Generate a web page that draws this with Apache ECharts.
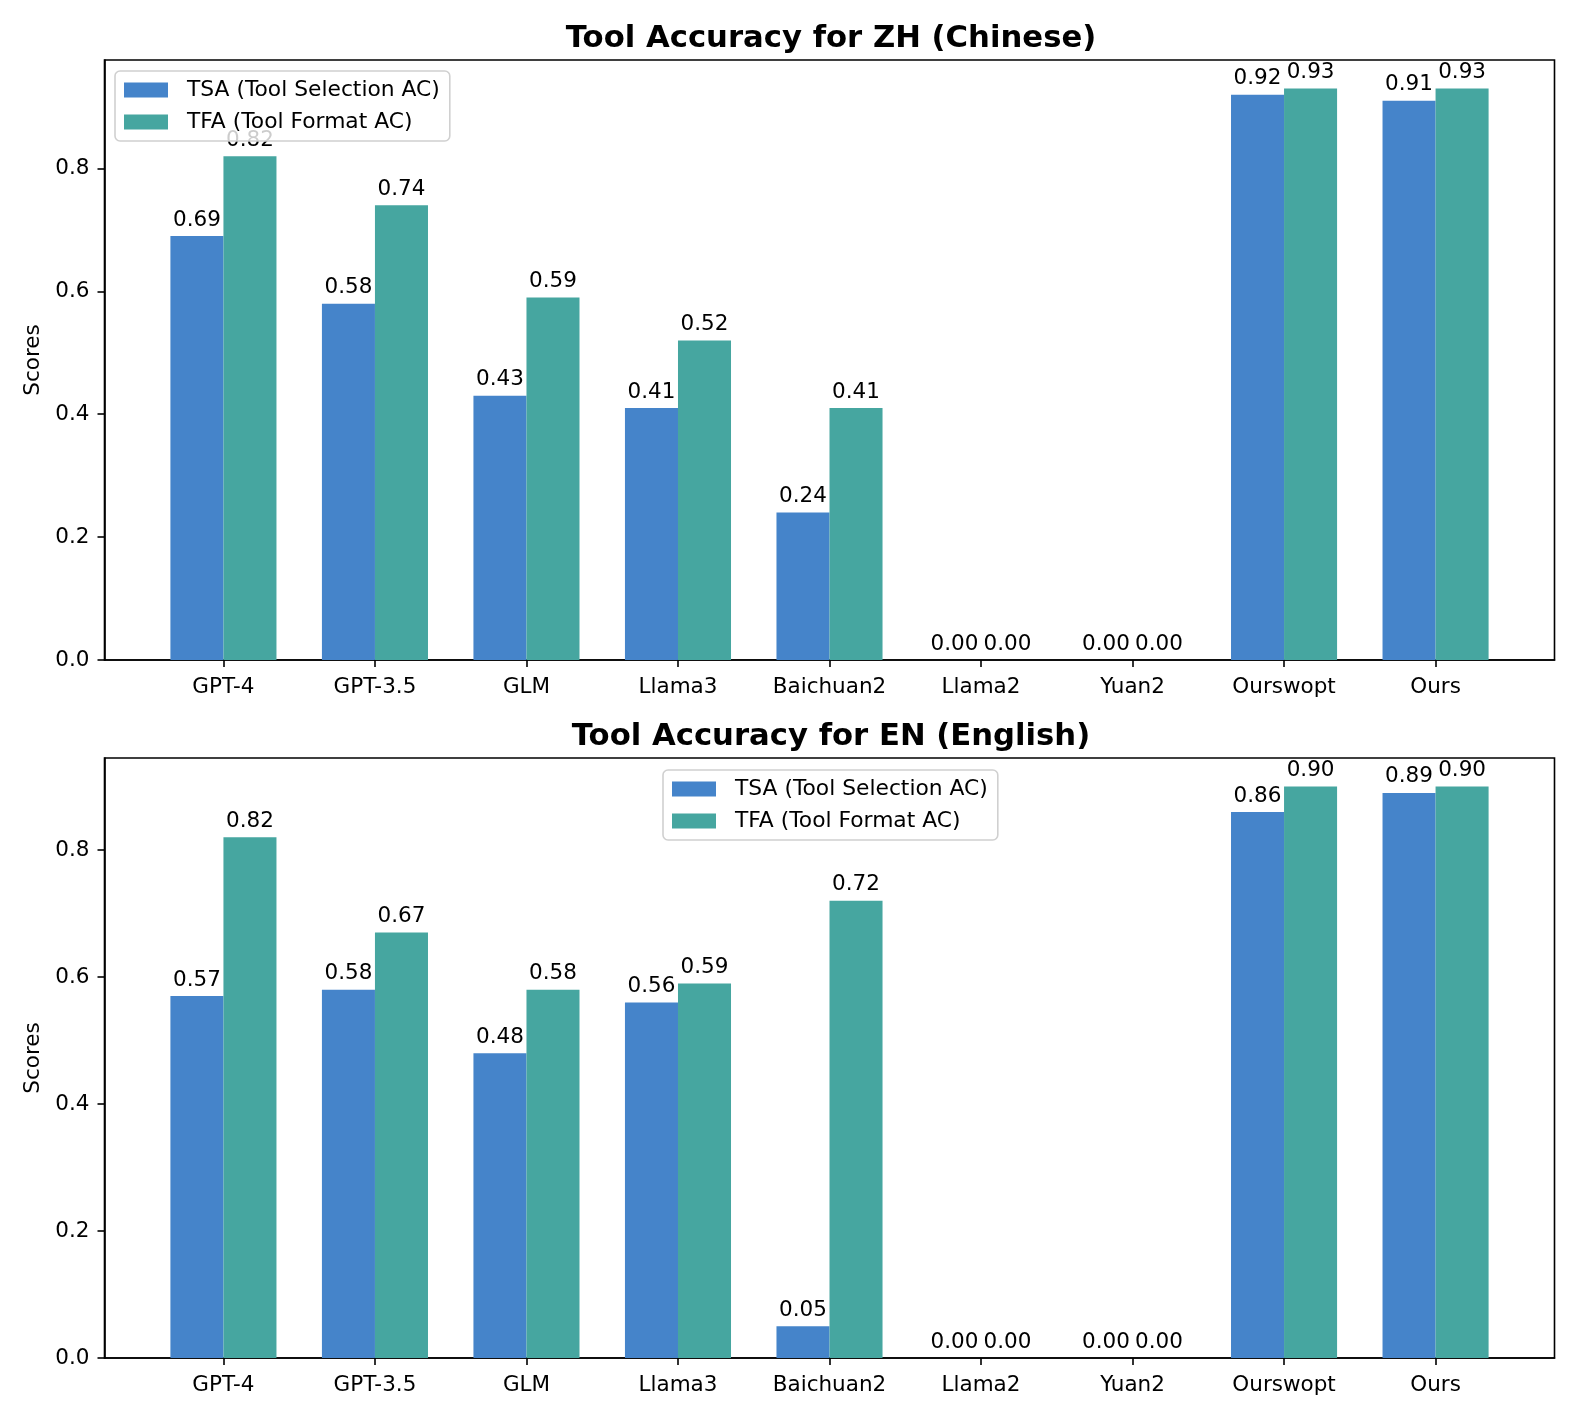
<!DOCTYPE html>
<html><head><meta charset="utf-8">
<script src="https://cdn.jsdelivr.net/npm/echarts/dist/echarts.min.js"></script>
<style>html,body{margin:0;padding:0;background:#fff}#c{width:1578px;height:1420px}</style>
</head><body><div id="c"></div>
<script>
const categories = ['GPT-4','GPT-3.5','GLM','Llama3','Baichuan2','Llama2','Yuan2','Ourswopt','Ours'];
const tsaZH = [0.69,0.58,0.43,0.41,0.24,0.00,0.00,0.92,0.91];
const tfaZH = [0.82,0.74,0.59,0.52,0.41,0.00,0.00,0.93,0.93];
const tsaEN = [0.57,0.58,0.48,0.56,0.05,0.00,0.00,0.86,0.89];
const tfaEN = [0.82,0.67,0.58,0.59,0.72,0.00,0.00,0.90,0.90];
const yTicks = [0,0.2,0.4,0.6,0.8];
const titles = ['Tool Accuracy for ZH (Chinese)','Tool Accuracy for EN (English)'];
const seriesNames = ['TSA (Tool Selection AC)','TFA (Tool Format AC)'];
const yLabel = 'Scores';

const FONT = 'DejaVu Sans';
const FS = 21.5;
const BLUE = '#4584ca', TEAL = '#46a6a0';
const chart = echarts.init(document.getElementById('c'), null, {renderer:'canvas'});

const panels = [
  {tsa: tsaZH, tfa: tfaZH, top: 60},
  {tsa: tsaEN, tfa: tfaEN, top: 758}
];
const grids = [], xAxes = [], yAxes = [], series = [], titleArr = [], legends = [];
const xIdx = categories.map((c,i)=>i);
panels.forEach((p, k) => {
  grids.push({left:104.5, top:p.top, width:1450, height:600, show:true, borderColor:'#000', borderWidth:1.6, backgroundColor:'transparent'});
  const ymax = Math.max(...p.tsa, ...p.tfa) * 1.05;
  xAxes.push({type:'value', gridIndex:k, min:-0.785, max:categories.length-1+0.785,
    axisLine:{show:true, onZero:false, lineStyle:{color:'#000', width:1.6}},
    axisTick:{show:true, length:7, lineStyle:{color:'#000', width:1.6}, customValues:xIdx},
    axisLabel:{show:true, margin:16, color:'#000', fontFamily:FONT, fontSize:FS, customValues:xIdx,
      formatter:(v)=>categories[Math.round(v)] || ''},
    splitLine:{show:false}});
  yAxes.push({type:'value', gridIndex:k, min:0, max:ymax,
    name: yLabel, nameLocation:'middle', nameGap:60, nameRotate:90,
    nameTextStyle:{color:'#000', fontFamily:FONT, fontSize:FS},
    axisLine:{show:true, onZero:false, lineStyle:{color:'#000', width:1.6}},
    axisTick:{show:true, length:7, lineStyle:{color:'#000', width:1.6}, customValues:yTicks},
    axisLabel:{show:true, margin:15, color:'#000', fontFamily:FONT, fontSize:FS, customValues:yTicks,
      formatter:(v)=>v.toFixed(1)},
    splitLine:{show:false}});
  [[p.tsa, BLUE, seriesNames[0]], [p.tfa, TEAL, seriesNames[1]]].forEach(([vals, col, nm]) => {
    series.push({type:'bar', name:nm, xAxisIndex:k, yAxisIndex:k,
      data: vals.map((v,i)=>[i, v]),
      barWidth:'35%', barGap:'0%',
      itemStyle:{color:col, borderWidth:0},
      label:{show:true, position:'top', distance:5, color:'#000', fontFamily:FONT, fontSize:FS,
        formatter:(d)=>d.value[1].toFixed(2)},
      emphasis:{disabled:true}, animation:false});
  });
  titleArr.push({text:titles[k], left:826, textAlign:'center', top:p.top-41,
    textStyle:{fontFamily:FONT, fontWeight:'bold', fontSize:30.7, color:'#000'}});
});
const legendBase = {orient:'vertical', padding:[8,10,8,9], itemGap:10, itemWidth:44, itemHeight:15,
  borderColor:'#d0d0d0', borderWidth:1.6, borderRadius:5, backgroundColor:'rgba(255,255,255,0.8)',
  icon:'rect', data:seriesNames, selectedMode:false,
  textStyle:{fontFamily:FONT, fontSize:21.8, color:'#000', padding:[0,0,0,14]}};
legends.push(Object.assign({left:115, top:71}, legendBase));
legends.push(Object.assign({left:663, top:770}, legendBase));

chart.setOption({
  animation:false,
  backgroundColor:'#fff',
  title:titleArr, grid:grids, xAxis:xAxes, yAxis:yAxes, series:series, legend:legends
});
</script></body></html>
